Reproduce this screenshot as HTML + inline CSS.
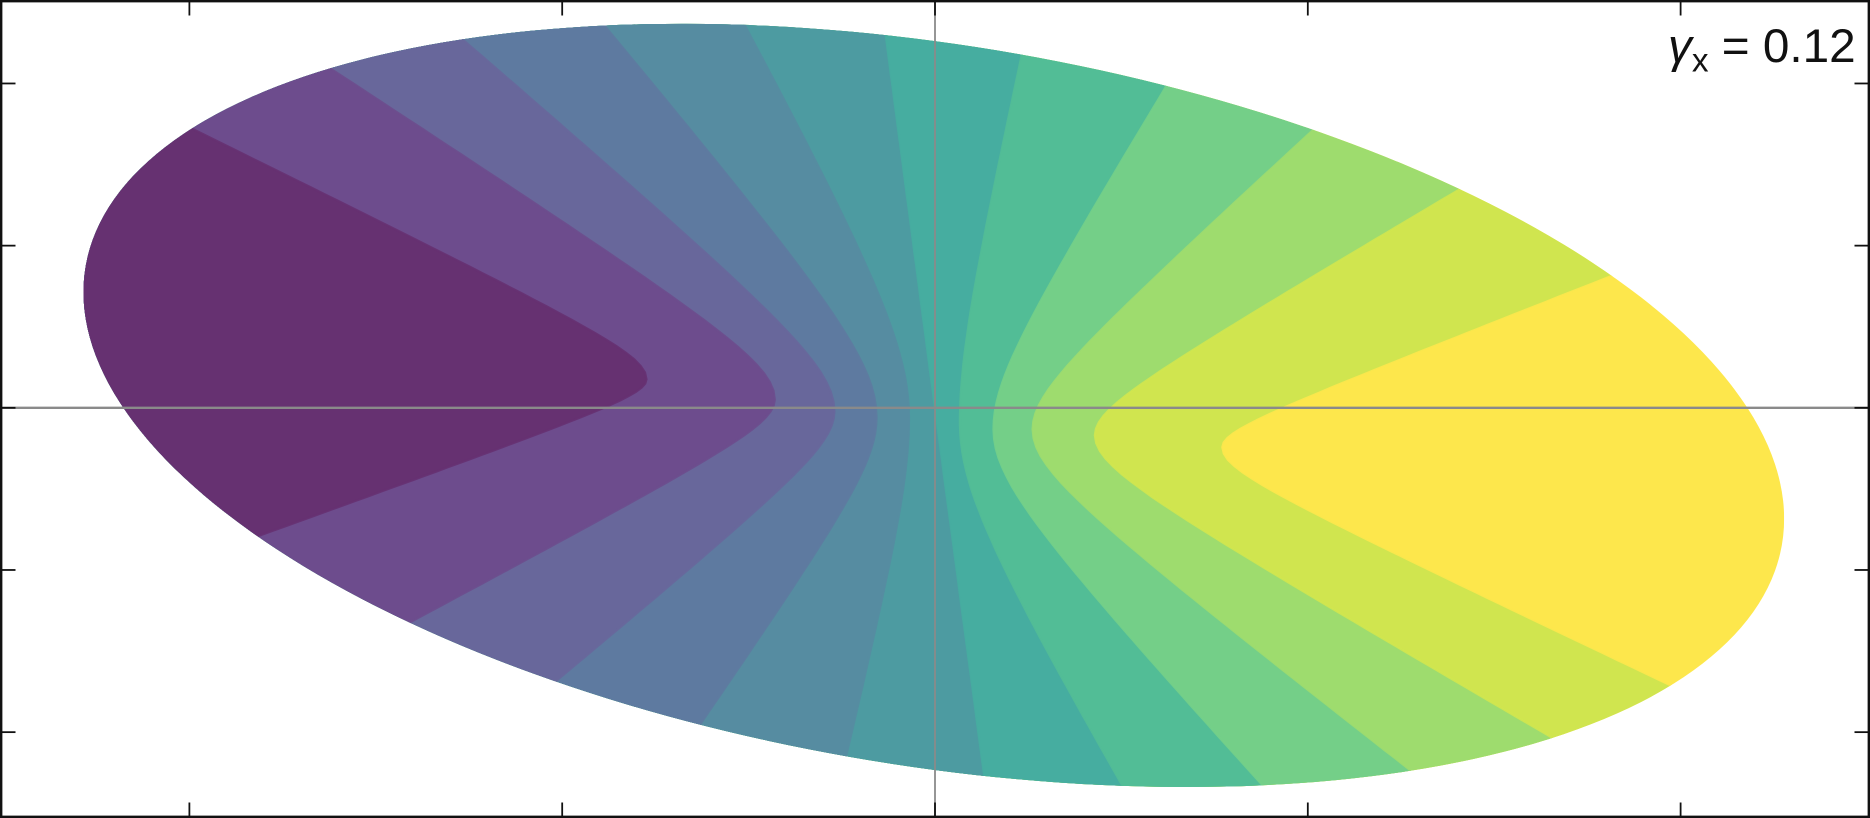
<!DOCTYPE html>
<html>
<head>
<meta charset="utf-8">
<style>
html,body{margin:0;padding:0;background:#fff;overflow:hidden;width:1870px;height:818px;}
svg{display:block;}
</style>
</head>
<body>
<svg id="chart" width="1870" height="818" viewBox="0 0 1568 686" preserveAspectRatio="none" xmlns="http://www.w3.org/2000/svg">
  <defs>
    <clipPath id="ellclip">
      <circle cx="0" cy="0" r="1" transform="matrix(713,95,0,305.6,783,340)"/>
    </clipPath>
  </defs>
  <g id="bands" clip-path="url(#ellclip)"></g>
  <g id="axes"></g>
  <text x="1556" y="52" text-anchor="end" font-family="Liberation Sans, DejaVu Sans, sans-serif" font-size="40" fill="#111"><tspan font-style="italic">γ</tspan><tspan font-size="28" dy="8">x</tspan><tspan dy="-8"> = 0.12</tspan></text>
</svg>
<script>
// Data (axis units: x ticks at -2..2, y ticks at -2..2)
const bandColors = ['#663171','#6d4c8d','#68679b','#5e7aa0','#568ca1','#4d9ba1','#46ada0','#52bd96','#74cf88','#9edc6e','#d0e54f','#fde74c'];
const topX = [-1.98,-1.61,-1.26,-0.88,-0.509,-0.134,0.237,0.621,1.011,1.401,1.811];
const topY = [1.706,2.074,2.257,2.338,2.353,2.331,2.221,1.985,1.706,1.338,0.809];
const vertX = [-0.774,-0.43,-0.27,-0.157,-0.07,0.0,0.067,0.157,0.262,0.429,0.771];
const vertY = [0.176,0.051,-0.022,-0.059,-0.059,0.0,-0.096,-0.132,-0.132,-0.169,-0.243];
const botX = [-1.82,-1.41,-1.02,-0.627,-0.237,0.131,0.505,0.883,1.251,1.609,1.955];
const botY = [-0.794,-1.324,-1.691,-1.941,-2.132,-2.25,-2.338,-2.338,-2.191,-1.971,-1.691];
const roundness = [0.12,0.14,0.16,0.2,0.28,0.0,0.28,0.2,0.16,0.14,0.12];
const xTicks = [-2,-1,0,1,2];
const yTicks = [-2,-1,0,1,2];

const NS = 'http://www.w3.org/2000/svg';
const X0 = 784, XS = 312.6, Y0 = 342, YS = 136;
function sx(v){ return X0 + v*XS; }
function sy(v){ return Y0 - v*YS; }
function clampX(v){ return Math.max(0, Math.min(1568, v)); }
function clampY(v){ return Math.max(0, Math.min(686, v)); }

function shape(u,c){ return (Math.sqrt(c*c+u*u)-c)/(Math.sqrt(c*c+1)-c); }

function boundaryPts(i){
  const c = roundness[i];
  const pts = [];
  const N = 60;
  for(let k=N;k>=0;k--){
    const u = 1.6*k/N;
    const x = vertX[i] + (topX[i]-vertX[i])*shape(u,c);
    const y = vertY[i] + (topY[i]-vertY[i])*u;
    pts.push([clampX(sx(x)),clampY(sy(y))]);
  }
  for(let k=1;k<=N;k++){
    const u = 1.6*k/N;
    const x = vertX[i] + (botX[i]-vertX[i])*shape(u,c);
    const y = vertY[i] + (botY[i]-vertY[i])*u;
    pts.push([clampX(sx(x)),clampY(sy(y))]);
  }
  return pts;
}

const bands = document.getElementById('bands');
const base = document.createElementNS(NS,'rect');
base.setAttribute('x',0); base.setAttribute('y',0);
base.setAttribute('width',1568); base.setAttribute('height',686);
base.setAttribute('fill',bandColors[bandColors.length-1]);


bands.appendChild(base);

for(let i=topX.length-1;i>=0;i--){
  const pts = boundaryPts(i);
  const first = pts[0], last = pts[pts.length-1];
  let d = 'M' + pts.map(p=>p[0].toFixed(1)+','+p[1].toFixed(1)).join(' L');
  d += ` L0,${last[1]} L0,${first[1]} Z`;
  const p = document.createElementNS(NS,'path');
  p.setAttribute('d', d);
  p.setAttribute('fill', bandColors[i]);
  
  
  bands.appendChild(p);
}
for(let i=0;i<topX.length;i++){
  const pts = boundaryPts(i);
  const l = document.createElementNS(NS,'path');
  l.setAttribute('d', 'M' + pts.map(p=>p[0].toFixed(1)+','+p[1].toFixed(1)).join(' L'));
  l.setAttribute('fill','none');
  l.setAttribute('stroke', i<5 ? bandColors[i] : bandColors[i+1]);
  l.setAttribute('stroke-width','2');
  l.setAttribute('stroke-opacity','0.9');
  
  
  bands.appendChild(l);
}

const axes = document.getElementById('axes');
function line(x1,y1,x2,y2,stroke,w,name){
  const l = document.createElementNS(NS,'line');
  l.setAttribute('x1',x1); l.setAttribute('y1',y1); l.setAttribute('x2',x2); l.setAttribute('y2',y2);
  l.setAttribute('stroke',stroke); l.setAttribute('stroke-width',w);
  
  
  axes.appendChild(l);
}
line(1,sy(0),1567,sy(0),'#8a8a8a',2,'x-zero-line');
line(sx(0),1,sx(0),685,'#8a8a8a',1.5,'y-zero-line');
xTicks.forEach(t=>{
  line(sx(t),1,sx(t),13,'#111',1.5,'x-tick-top');
  line(sx(t),673,sx(t),685,'#111',1.5,'x-tick-bottom');
});
yTicks.forEach(t=>{
  line(1,sy(t),13,sy(t),'#111',1.5,'y-tick-left');
  line(1555,sy(t),1567,sy(t),'#111',1.5,'y-tick-right');
});
const frame = document.createElementNS(NS,'rect');
frame.setAttribute('x',1); frame.setAttribute('y',1); frame.setAttribute('width',1566); frame.setAttribute('height',684);
frame.setAttribute('fill','none'); frame.setAttribute('stroke','#111'); frame.setAttribute('stroke-width','2');


axes.appendChild(frame);
</script>
</body>
</html>
